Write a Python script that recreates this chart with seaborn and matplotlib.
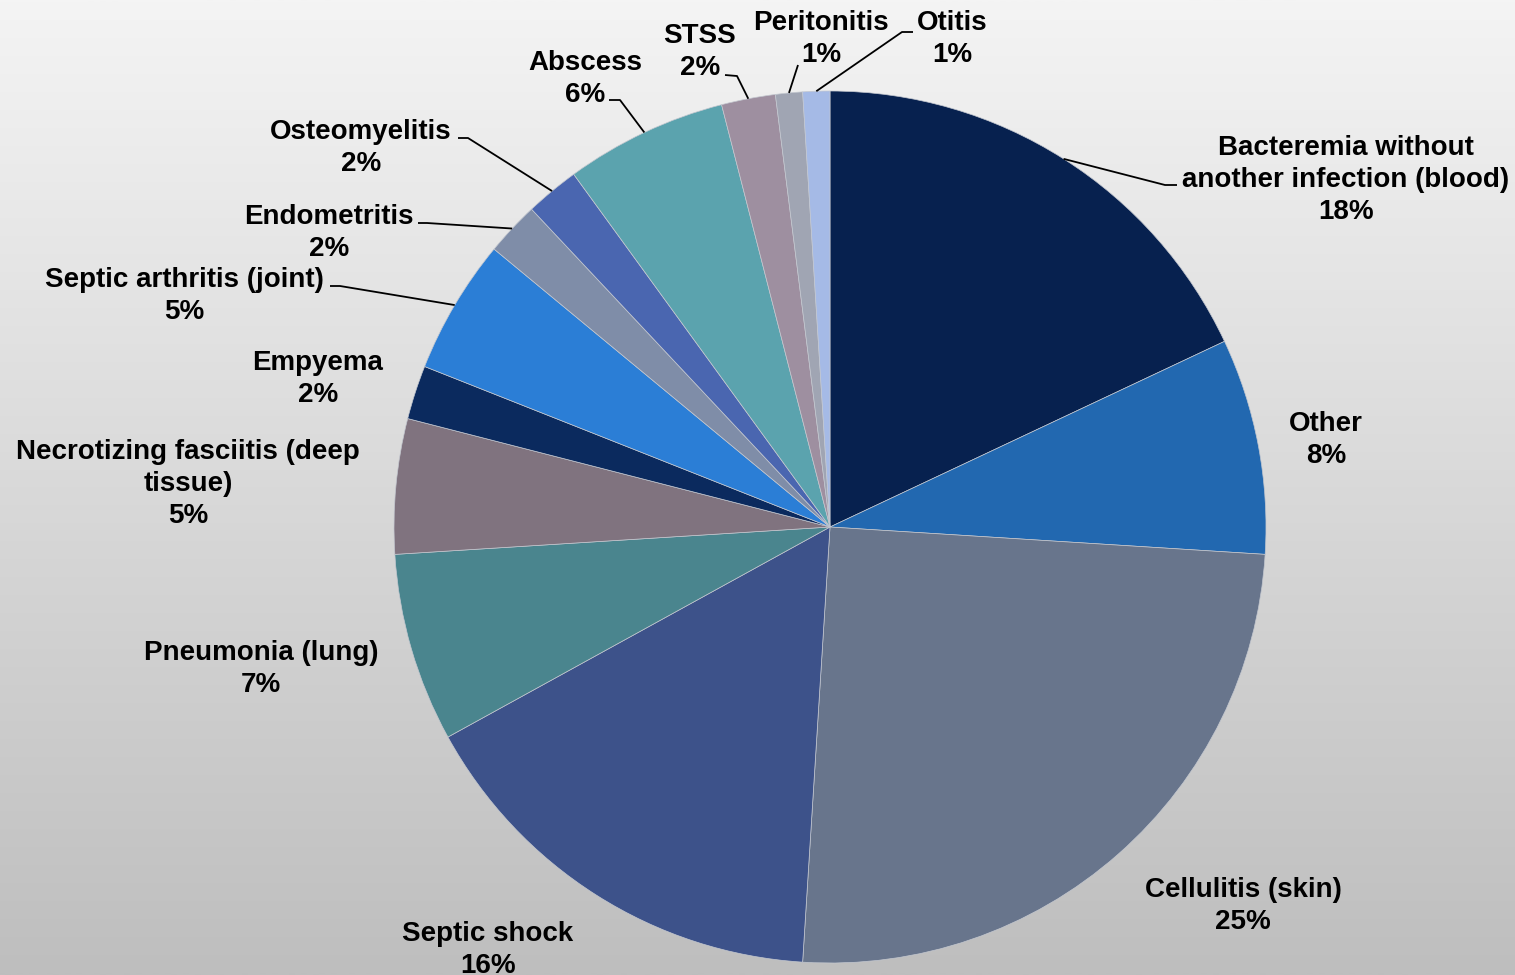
import numpy as np
import matplotlib
matplotlib.use("Agg")
import matplotlib.pyplot as plt
import seaborn as sns

# Invasive infection types, clockwise from 12 o'clock
categories = [
    "Bacteremia without\nanother infection (blood)",
    "Other",
    "Cellulitis (skin)",
    "Septic shock",
    "Pneumonia (lung)",
    "Necrotizing fasciitis (deep\ntissue)",
    "Empyema",
    "Septic arthritis (joint)",
    "Endometritis",
    "Osteomyelitis",
    "Abscess",
    "STSS",
    "Peritonitis",
    "Otitis",
]
percent = [18, 8, 25, 16, 7, 5, 2, 5, 2, 2, 6, 2, 1, 1]

slice_colors = [
    "#07214F", "#2268B0", "#68758C", "#3D528A", "#4A858E", "#80737F", "#0B2A5E",
    "#2B7ED6", "#7F8DA8", "#4A66B0", "#5BA3AE", "#9E8FA0", "#A0A5B3", "#A5BAE6",
]

# Figure geometry (pixels)
W, H, DPI = 1515, 975, 100
CX, CY, R = 830, 527, 436
TEXT_DY = 3

# Label centres in pixels
label_xy = [
    (1346, 177), (1326, 437), (1243, 903), (488, 947), (261, 666), (188, 481),
    (318, 376), (184, 293), (329, 230), (361, 145), (585, 76), (700, 49),
    (821, 36), (952, 36),
]
# Leader lines: (elbow point, end point) in pixels, None for no leader
leaders = [
    ((1165, 185), (1177, 185)), None, None, None, None, None, None,
    ((340, 286), (330, 286)), ((427, 223), (418, 223)), ((468, 138), (458, 138)),
    ((620, 100), (609, 100)), ((737, 76), (725, 75)), ((798, 65), None),
    ((902, 32), (913, 32)),
]

sns.set_style("white")
plt.rcParams["font.family"] = ["Liberation Sans", "DejaVu Sans"]

fig = plt.figure(figsize=(W / DPI, H / DPI), dpi=DPI)

# Vertical grey gradient background
bg = fig.add_axes([0, 0, 1, 1], zorder=0)
grad = np.linspace(244, 190, 256).reshape(-1, 1) / 255.0
bg.imshow(np.dstack([grad, grad, grad]), aspect="auto", extent=[0, 1, 0, 1],
          interpolation="bilinear")
bg.set_axis_off()

ax = fig.add_axes([(CX - R) / W, (H - CY - R) / H, 2 * R / W, 2 * R / H], zorder=1)
ax.set_facecolor("none")
ax.pie(percent, colors=slice_colors, startangle=90, counterclock=False, radius=1,
       wedgeprops=dict(edgecolor="#c4c8d0", linewidth=0.5))
ax.set_xlim(-1, 1)
ax.set_ylim(-1, 1)
ax.set_aspect("equal")
ax.set_axis_off()


def to_data(px, py):
    return (px - CX) / R, (CY - py) / R


cum = np.cumsum([0] + percent[:-1])
total = float(sum(percent))
for i, (name, val) in enumerate(zip(categories, percent)):
    lx, ly = label_xy[i]
    tx, ty = to_data(lx, ly + TEXT_DY)
    ax.text(tx, ty, f"{name}\n{val}%", ha="center", va="center", fontsize=20,
            fontweight="bold", color="black", linespacing=1.29, clip_on=False)
    if leaders[i] is not None:
        mid = (cum[i] + val / 2) / total * 2 * np.pi
        rx, ry = np.sin(mid), np.cos(mid)
        elbow, end = leaders[i]
        xs, ys = [rx], [ry]
        ex, ey = to_data(*elbow)
        xs.append(ex); ys.append(ey)
        if end is not None:
            nx, ny = to_data(*end)
            xs.append(nx); ys.append(ny)
        ax.plot(xs, ys, color="black", linewidth=1.3, clip_on=False,
                solid_capstyle="butt")

fig.savefig("out.png", dpi=DPI)
